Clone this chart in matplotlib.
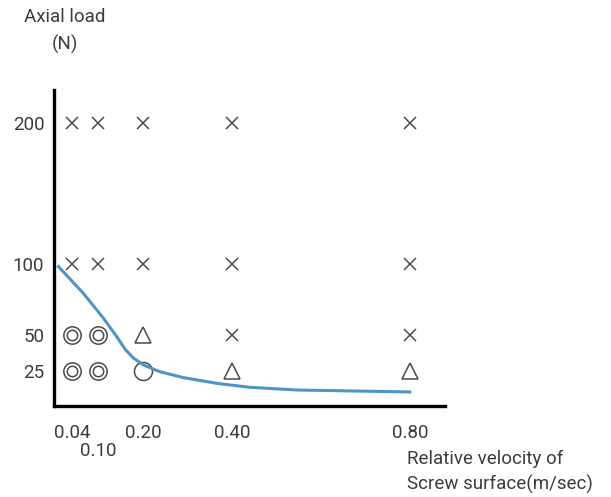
import numpy as np
import matplotlib.pyplot as plt

# test conditions
velocities = [0.04, 0.10, 0.20, 0.40, 0.80]
loads = [25, 50, 100, 200]
vel_labels = ["0.04", "0.10", "0.20", "0.40", "0.80"]
load_labels = ["25", "50", "100", "200"]

# result per (load, velocity): 'dc' double circle, 'c' circle, 't' triangle, 'x' cross
results = {
    25:  ['dc', 'dc', 'c', 't', 't'],
    50:  ['dc', 'dc', 't', 'x', 'x'],
    100: ['x', 'x', 'x', 'x', 'x'],
    200: ['x', 'x', 'x', 'x', 'x'],
}

# limit curve
curve_v = [0.010, 0.066, 0.111, 0.141, 0.160, 0.178, 0.201, 0.238, 0.291,
           0.366, 0.440, 0.546, 0.80]
curve_load = [98.4, 79.5, 62.0, 49.0, 40.0, 34.0, 29.0, 24.2, 20.0,
              16.0, 13.2, 11.3, 9.9]

plt.rcParams['font.family'] = ['Roboto', 'DejaVu Sans']
txt = '#3c3c3c'
mk = '#4a4a4a'
fs = 13.5

fig = plt.figure(figsize=(6.11, 4.97), dpi=100)
ax = fig.add_axes([54/611, 1-406/497, (445-54)/611, (406-90)/497])

ax.plot(curve_v, curve_load, color='#4f94c8', lw=2.2, zorder=3)

for load in loads:
    for v, r in zip(velocities, results[load]):
        if r == 'x':
            ax.plot(v, load, marker='x', ms=8, mew=1.1, color=mk, ls='none')
        elif r == 't':
            ax.plot(v, load, marker='^', ms=12, mew=1.1, mfc='white', mec=mk, ls='none')
        elif r == 'c':
            ax.plot(v, load, marker='o', ms=13, mew=1.1, mfc='white', mec=mk, ls='none', zorder=2)
        elif r == 'dc':
            ax.plot(v, load, marker='o', ms=12.5, mew=1.1, mfc='white', mec=mk, ls='none')
            ax.plot(v, load, marker='o', ms=7.5, mew=1.1, mfc='white', mec=mk, ls='none')

ax.set_xlim(0, 0.879)
ax.set_ylim(0, 223)
for s in ['top', 'right']:
    ax.spines[s].set_visible(False)
for s in ['left', 'bottom']:
    ax.spines[s].set_linewidth(2.4)
    ax.spines[s].set_color('black')

# 0.10 label sits one line lower than the others
ax.set_xticks(velocities)
ax.set_xticklabels([l if l != "0.10" else "" for l in vel_labels])
ax.text(0.10, -0.143, "0.10", transform=ax.get_xaxis_transform(), ha='center',
        va='center', fontsize=fs, color=txt)
ax.set_yticks(loads)
ax.set_yticklabels(load_labels)
ax.tick_params(axis='both', length=0, labelsize=fs, labelcolor=txt)
ax.tick_params(axis='x', pad=13)
ax.tick_params(axis='y', pad=7)

fig.text(65/611, 1-31/497, "Axial load\n(N)", ha='center', va='center',
         fontsize=fs, color=txt, linespacing=1.6)
fig.text(407/611, 1-472/497, "Relative velocity of\nScrew surface(m/sec)", ha='left',
         va='center', fontsize=fs, color=txt, linespacing=1.4)

fig.savefig('out.png', dpi=100)
